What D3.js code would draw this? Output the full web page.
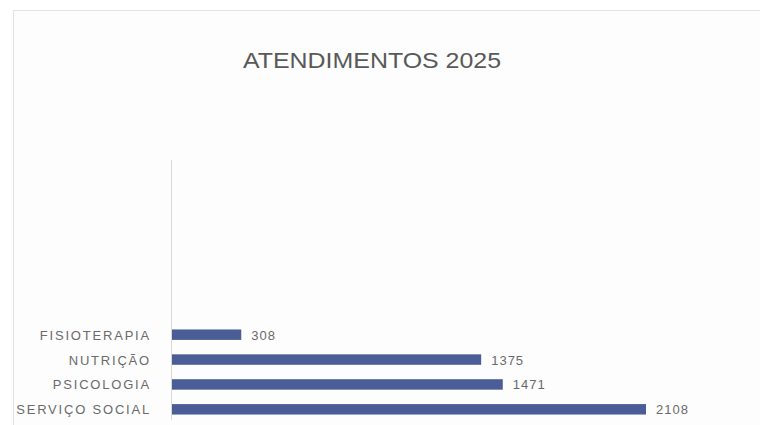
<!DOCTYPE html>
<html><head><meta charset="utf-8">
<script src="https://cdn.jsdelivr.net/npm/d3@7"></script>
<style>body{margin:0;background:#fff}svg{display:block}</style>
</head><body>
<svg id="c" width="760" height="425"></svg>
<script>
const title = "ATENDIMENTOS 2025";
const categories = ["FISIOTERAPIA", "NUTRIÇÃO", "PSICOLOGIA", "SERVIÇO SOCIAL"];
const values = [308, 1375, 1471, 2108];
const valueLabels = ["308", "1375", "1471", "2108"];

const svg = d3.select("#c");
const W = 760, H = 425;
svg.append("rect").attr("x",0).attr("y",0).attr("width",W).attr("height",H).attr("fill","#fff");
svg.append("rect").attr("x",13.5).attr("y",10.5).attr("width",760).attr("height",430)
  .attr("fill","#fdfdfd").attr("stroke","#e2e2e2");

const x0 = 172;
const x = d3.scaleLinear().domain([0, 2108]).range([x0, 646]);
const y = d3.scaleBand().domain(categories).range([322, 422]).paddingInner(0.58).paddingOuter(0.3);

svg.append("line").attr("x1",x0-0.5).attr("x2",x0-0.5).attr("y1",160).attr("y2",420)
  .attr("stroke","#d9d9d9").attr("stroke-width",1);

svg.append("text").attr("x",372).attr("y",68).attr("text-anchor","middle")
  .attr("font-family","Liberation Sans, Arial, sans-serif").attr("font-size",22)
  .attr("fill","#595959").attr("textLength",258).attr("lengthAdjust","spacingAndGlyphs")
  .text(title);

svg.selectAll("rect.bar").data(categories).enter().append("rect").attr("class","bar")
  .attr("x", x(0)).attr("y", d => y(d)).attr("height", y.bandwidth())
  .attr("width", (d,i) => x(values[i]) - x(0)).attr("fill","#4b5d96");

svg.selectAll("text.cat").data(categories).enter().append("text").attr("class","cat")
  .attr("x",151).attr("y", d => y(d) + y.bandwidth()/2 + 5).attr("text-anchor","end")
  .attr("font-family","Liberation Sans, Arial, sans-serif").attr("font-size",13)
  .attr("letter-spacing",1.8)
  .attr("fill","#6a6a6a").text(d => d);

svg.selectAll("text.val").data(categories).enter().append("text").attr("class","val")
  .attr("x", (d,i) => x(values[i]) + 10).attr("y", d => y(d) + y.bandwidth()/2 + 5)
  .attr("font-family","Liberation Sans, Arial, sans-serif").attr("font-size",13)
  .attr("letter-spacing",1)
  .attr("fill","#6a6a6a").text((d,i) => valueLabels[i]);
</script>
</body></html>
